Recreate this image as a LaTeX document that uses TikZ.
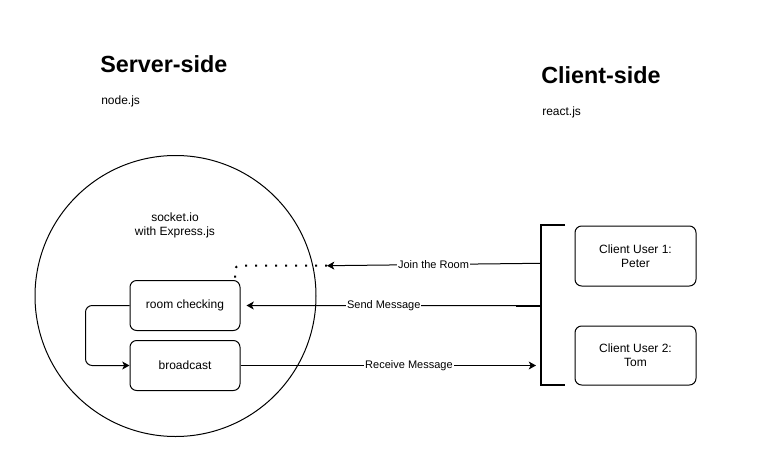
\documentclass[tikz,border=0pt]{standalone}
\usepackage{fontspec}
\setmainfont{Liberation Sans}
\usetikzlibrary{arrows.meta}

\tikzset{
  box/.style={draw, line width=0.75pt, rounded corners=5pt, align=center, font=\fontsize{9}{10.5}\selectfont},
  arr/.style={line width=0.75pt, -{Stealth[length=5.5pt, width=6pt, inset=1.5pt]}},
  lbl/.style={fill=white, inner sep=0.75pt, font=\fontsize{8.25}{10}\selectfont},
  txt/.style={inner sep=0.75pt, font=\fontsize{9}{10.5}\selectfont}
}

\begin{document}
\begin{tikzpicture}[x=0.75pt,y=0.75pt,yscale=-1,xscale=1]
    \useasboundingbox (0,0) rectangle (761,471);

    %Shape: Circle
    \node [draw, circle, line width=0.75pt, minimum size=210.75pt, inner sep=0pt] (server) at (175.5,296) {};
    %Rounded Rect
    \node [box, minimum width=82.5pt, minimum height=37.5pt] (room) at (185,305.5) {room checking};
    %Rounded Rect
    \node [box, minimum width=82.5pt, minimum height=37.5pt] (bcast) at (185,365.5) {broadcast};
    %Rounded Rect
    \node [box, minimum width=90.75pt, minimum height=45pt] (user1) at (635.5,256) {Client User 1:\\Peter};
    %Rounded Rect
    \node [box, minimum width=90.75pt, minimum height=44.25pt] (user2) at (635.5,355.5) {Client User 2:\\Tom};

    %Shape: Bracket
    \coordinate (brtop) at (565,225);
    \coordinate (brbot) at (565,385);
    \coordinate (brmid) at (516,305.7);
    \draw [line width=1.5pt] (brtop) -- (540.5,225) -- (540.5,385) -- (brbot);
    \draw [line width=1.5pt] (brmid) -- (540.5,305.7);

    %Straight Lines
    \coordinate (joinfrom) at (540,263.3);
    \coordinate (joinend) at (327,265.7);
    \draw [arr] (joinfrom) -- node [lbl, pos=0.5] {Join the Room} (joinend);
    %Dotted Lines
    \draw [line width=1.5pt, dash pattern=on 1.5pt off 6pt, rounded corners=3pt] (joinend) -| ([xshift=-4pt]room.north east);
    %Straight Lines
    \draw [arr, shorten >=4.5pt] (brmid) -- node [lbl, pos=0.48] {Send Message} (room.east);
    %Straight Lines
    \coordinate (recvend) at (536,365.5);
    \draw [arr] (bcast.east) -- node [lbl, pos=0.57] {Receive Message} (recvend);
    %Loop Lines
    \draw [arr, rounded corners=5pt] (room.west) -- ++(-44,0) |- (bcast.west);

    % Text Node
    \node [anchor=west, inner sep=0pt, font=\bfseries\fontsize{17.5}{21}\selectfont] (srvtitle) at (100,64) {Server-side};
    % Text Node
    \node [txt, anchor=west] (srvlib) at (100,101) {node.js};
    % Text Node
    \node [anchor=west, inner sep=0pt, font=\bfseries\fontsize{17.5}{21}\selectfont] (clititle) at (541,75) {Client-side};
    % Text Node
    \node [txt, anchor=west] (clilib) at (541,112) {react.js};
    % Text Node
    \node [txt, align=center] (sockio) at (175,225.5) {socket.io\\with Express.js};

\end{tikzpicture}
\end{document}
